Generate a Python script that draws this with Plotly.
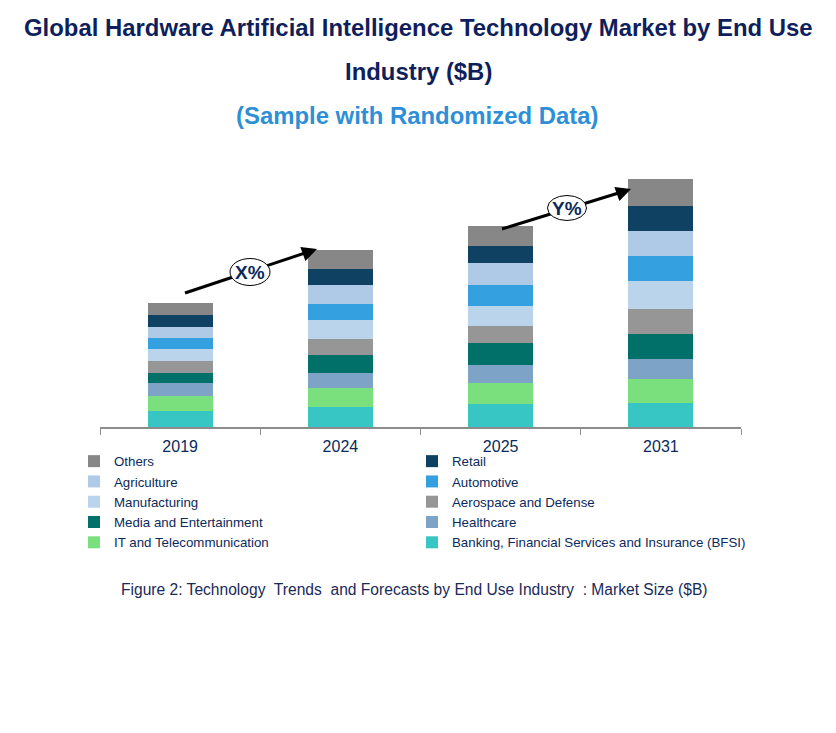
import plotly.graph_objects as go

years = ["2019", "2024", "2025", "2031"]

bfsi = [16.3, 20, 23, 24]
it_tel = [15, 19, 21, 24]
healthcare = [13, 15, 18, 20]
media = [10, 18, 22, 25]
aerospace = [12, 16, 17, 25]
manufacturing = [11.7, 19, 20, 28]
automotive = [11.3, 16, 21, 25]
agriculture = [11, 19, 22, 25]
retail = [11.7, 16, 17, 25]
others = [12.3, 19, 20, 27]

series = [
    ("Banking, Financial Services and Insurance (BFSI)", bfsi, "#37C6C4"),
    ("IT and Telecommunication", it_tel, "#7AE07E"),
    ("Healthcare", healthcare, "#7DA3C7"),
    ("Media and Entertainment", media, "#007068"),
    ("Aerospace and Defense", aerospace, "#969696"),
    ("Manufacturing", manufacturing, "#BAD4EC"),
    ("Automotive", automotive, "#35A0E0"),
    ("Agriculture", agriculture, "#AECAE6"),
    ("Retail", retail, "#0F4262"),
    ("Others", others, "#878787"),
]

NAVY = "#0B2A5B"
FONT = "Liberation Sans, Arial, sans-serif"

fig = go.Figure()
for name, vals, col in series:
    fig.add_trace(go.Bar(x=years, y=vals, name=name,
                         marker=dict(color=col, line=dict(width=0))))

W, H = 836, 733
L, R, T, B = 100, 95, 167, 306
pw, ph = W - L - R, H - T - B


def px(x):
    return (x - L) / pw


def py(y):
    return (H - B - y) / ph


shapes = []
annotations = []

annotations += [
    dict(text="<b>Global Hardware Artificial Intelligence Technology Market by End Use</b>",
         x=px(418), y=py(28), xref="paper", yref="paper", showarrow=False,
         xanchor="center", yanchor="middle", font=dict(family=FONT, size=23.9, color="#0F1F5C")),
    dict(text="<b>Industry ($B)</b>",
         x=px(418), y=py(72), xref="paper", yref="paper", showarrow=False,
         xanchor="center", yanchor="middle", font=dict(family=FONT, size=23.9, color="#0F1F5C")),
    dict(text="<b>(Sample with Randomized Data)</b>",
         x=px(417), y=py(115), xref="paper", yref="paper", showarrow=False,
         xanchor="center", yanchor="middle", font=dict(family=FONT, size=23.9, color="#2E8FD6")),
    dict(text="Figure 2: Technology  Trends  and Forecasts by End Use Industry  : Market Size ($B)",
         x=px(414), y=py(589), xref="paper", yref="paper", showarrow=False,
         xanchor="center", yanchor="middle", font=dict(family=FONT, size=15.6, color="#1A2A5A")),
]

arrows = [
    ((185, 293), (317, 249), (250, 272), 40, 27, "X%"),
    ((502, 229), (631, 189), (567, 208), 39, 25, "Y%"),
]
for (x0, y0), (x1, y1), (cx, cy), ew, eh, lab in arrows:
    shapes.append(dict(type="line", xref="paper", yref="paper",
                       x0=px(x0), y0=py(y0), x1=px(x1 - 6), y1=py(y1 + 2),
                       line=dict(color="black", width=3)))
    shapes.append(dict(type="circle", xref="paper", yref="paper",
                       x0=px(cx - ew / 2), x1=px(cx + ew / 2),
                       y0=py(cy + eh / 2), y1=py(cy - eh / 2),
                       fillcolor="white", line=dict(color="black", width=1)))
    annotations.append(dict(x=px(x1), y=py(y1), xref="paper", yref="paper",
                            ax=-14, ay=5, text="", showarrow=True,
                            arrowhead=2, arrowsize=1, arrowwidth=3, arrowcolor="black"))
    annotations.append(dict(x=px(cx), y=py(cy), xref="paper", yref="paper",
                            text="<b>" + lab + "</b>", showarrow=False,
                            xanchor="center", yanchor="middle",
                            font=dict(family=FONT, size=19, color=NAVY)))

fig.update_layout(
    width=W, height=H,
    margin=dict(l=L, r=R, t=T, b=B, pad=0),
    paper_bgcolor="white", plot_bgcolor="white",
    barmode="stack", bargap=0.594,
    font=dict(family=FONT, color=NAVY),
    xaxis=dict(showline=True, linecolor="#8C8C8C", linewidth=1.5,
               ticks="outside", tickson="boundaries", ticklen=6, tickcolor="#8C8C8C",
               ticklabelstandoff=4,
               tickfont=dict(family=FONT, size=16, color=NAVY), showgrid=False,
               fixedrange=True),
    yaxis=dict(range=[0, ph], visible=False, showgrid=False, fixedrange=True),
    showlegend=True,
    legend=dict(orientation="h", traceorder="reversed",
                x=px(74), xanchor="left", y=py(446), yanchor="top",
                entrywidth=293, entrywidthmode="pixels",
                font=dict(family=FONT, size=13.3, color=NAVY),
                itemclick=False, itemdoubleclick=False,
                bgcolor="rgba(0,0,0,0)"),
    shapes=shapes, annotations=annotations,
)

fig.write_html("out.html")
